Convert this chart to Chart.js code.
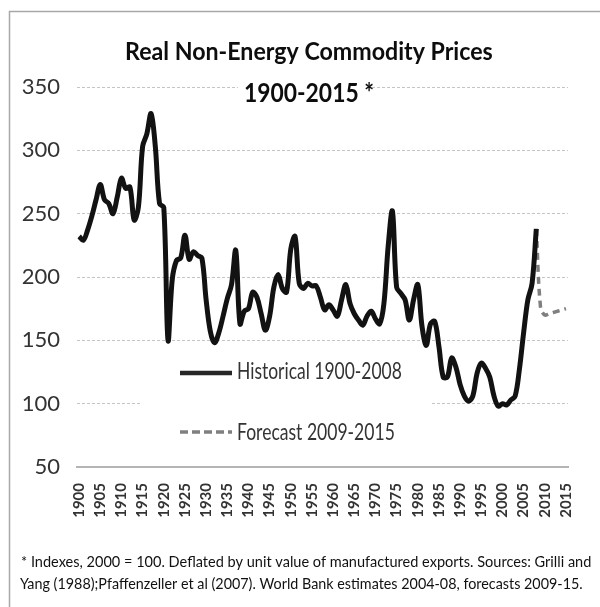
<!DOCTYPE html>
<html>
<head>
<meta charset="utf-8">
<script src="https://cdn.jsdelivr.net/npm/chart.js@4"></script>
<style>
  html, body { margin: 0; padding: 0; background: #fff; overflow: hidden; }
</style>
</head>
<body>
<canvas id="chart" width="600" height="607"></canvas>
<script>
// categories: one per year
const years = [
  1900, 1901, 1902, 1903, 1904, 1905, 1906, 1907, 1908, 1909,
  1910, 1911, 1912, 1913, 1914, 1915, 1916, 1917, 1918, 1919,
  1920, 1921, 1922, 1923, 1924, 1925, 1926, 1927, 1928, 1929,
  1930, 1931, 1932, 1933, 1934, 1935, 1936, 1937, 1938, 1939,
  1940, 1941, 1942, 1943, 1944, 1945, 1946, 1947, 1948, 1949,
  1950, 1951, 1952, 1953, 1954, 1955, 1956, 1957, 1958, 1959,
  1960, 1961, 1962, 1963, 1964, 1965, 1966, 1967, 1968, 1969,
  1970, 1971, 1972, 1973, 1974, 1975, 1976, 1977, 1978, 1979,
  1980, 1981, 1982, 1983, 1984, 1985, 1986, 1987, 1988, 1989,
  1990, 1991, 1992, 1993, 1994, 1995, 1996, 1997, 1998, 1999,
  2000, 2001, 2002, 2003, 2004, 2005, 2006, 2007, 2008, 2009,
  2010, 2011, 2012, 2013, 2014, 2015
];

// historical index 1900-2008
const historical = [
  232, 229, 237, 248, 261, 273, 261, 258, 250, 263,
  278, 270, 271, 245, 255, 303, 313, 329, 303, 258,
  255, 150, 198, 213, 215, 233, 214, 220, 217, 215,
  182, 157, 148, 156, 169, 183, 194, 221, 163, 173,
  175, 188, 184, 171, 158, 169, 192, 202, 191, 188,
  222, 232, 195, 191, 195, 193, 193, 184, 174, 178,
  174, 169, 182, 194, 179, 171, 166, 162, 169, 173,
  167, 163, 179, 224, 252, 192, 187, 182, 166, 182,
  194, 161, 146, 163, 165, 145, 121, 121, 136, 129,
  115, 106, 102, 106, 124, 132, 128, 121, 106, 98,
  100, 99, 103, 106, 127, 156, 182, 195, 238
];

// forecast 2008 (joins the historical line) to 2015
const forecastYears = [2008, 2009, 2010, 2011, 2012, 2013, 2014, 2015];
const forecast = [238, 176, 170, 171, 172, 173, 174, 175];

const yTicks = [50, 100, 150, 200, 250, 300, 350];

const titleLines = ['Real Non-Energy Commodity Prices', '1900-2015 *'];
const legendLabels = ['Historical 1900-2008', 'Forecast 2009-2015'];
const footnote = [
  '* Indexes, 2000 = 100. Deflated by unit value of manufactured exports. Sources: Grilli and',
  'Yang (1988);Pfaffenzeller et al (2007). World Bank estimates 2004-08, forecasts 2009-15.'
];

const FONT = "Lato, 'Open Sans', sans-serif";

// draws text scaled to a given width and cap height (the source text is tall and narrow)
function fitText(ctx, text, x, baseline, width, cap, weight, color, align) {
  ctx.save();
  ctx.font = weight + ' 100px ' + FONT;
  const size = 100 * width / ctx.measureText(text).width;
  ctx.font = weight + ' ' + size + 'px ' + FONT;
  const capH = ctx.measureText('H').actualBoundingBoxAscent || size * 0.72;
  ctx.translate(x, baseline);
  ctx.scale(1, cap / capH);
  ctx.fillStyle = color;
  ctx.textAlign = align || 'left';
  ctx.textBaseline = 'alphabetic';
  ctx.fillText(text, 0, 0);
  ctx.restore();
}

const decorations = {
  id: 'decorations',
  beforeDraw(chart) {
    const ctx = chart.ctx;
    ctx.save();
    ctx.strokeStyle = '#a8a8a8';
    ctx.lineWidth = 1.5;
    ctx.beginPath();
    ctx.moveTo(9.5, 607);
    ctx.lineTo(9.5, 11.5);
    ctx.lineTo(600, 11.5);
    ctx.stroke();
    ctx.restore();
  },
  beforeDatasetsDraw(chart) {
    const ctx = chart.ctx;
    ctx.save();
    ctx.fillStyle = '#fff';
    ctx.fillRect(238, 70, 134, 40);   // behind title line 2
    ctx.fillRect(140, 350, 290, 102); // legend box
    ctx.restore();
  },
  afterDatasetsDraw(chart) {
    const ctx = chart.ctx;
    // title
    fitText(ctx, titleLines[0], 125, 60, 368, 17.5, 'bold', '#0d0d0d', 'left');
    fitText(ctx, titleLines[1], 244, 102, 130, 19.5, 'bold', '#0d0d0d', 'left');
    // legend
    ctx.save();
    ctx.lineCap = 'butt';
    ctx.strokeStyle = '#262626';
    ctx.lineWidth = 4.5;
    ctx.beginPath();
    ctx.moveTo(180, 373);
    ctx.lineTo(232, 373);
    ctx.stroke();
    ctx.strokeStyle = '#808080';
    ctx.lineWidth = 3.5;
    ctx.setLineDash([8, 4]);
    ctx.beginPath();
    ctx.moveTo(180, 432);
    ctx.lineTo(232, 432);
    ctx.stroke();
    ctx.restore();
    fitText(ctx, legendLabels[0], 237, 379, 165, 16.5, 'normal', '#333', 'left');
    fitText(ctx, legendLabels[1], 237, 440, 158, 16.5, 'normal', '#333', 'left');
    // footnote
    fitText(ctx, footnote[0], 21, 567, 571, 11.5, 'normal', '#111', 'left');
    fitText(ctx, footnote[1], 20, 589, 563, 11.5, 'normal', '#111', 'left');
  }
};

new Chart(document.getElementById('chart'), {
  type: 'line',
  data: {
    labels: years,
    datasets: [{
      label: legendLabels[0],
      data: historical.map((v, i) => ({ x: years[i], y: v })),
      borderColor: '#121212',
      borderWidth: 5,
      tension: 0.35,
      pointRadius: 0,
      fill: false
    }, {
      label: legendLabels[1],
      data: forecastYears.map((yr, i) => ({ x: yr, y: forecast[i] })),
      borderColor: '#7f7f7f',
      borderWidth: 3.5,
      borderDash: [7, 5],
      tension: 0.35,
      pointRadius: 0,
      fill: false
    }]
  },
  options: {
    responsive: false,
    animation: false,
    layout: { padding: { top: 87, right: 12, left: 0, bottom: 0 } },
    scales: {
      x: {
        type: 'category',
        offset: true,
        grid: { display: false, drawTicks: false },
        border: { display: true, color: '#b4b4b4', width: 2 },
        ticks: {
          autoSkip: false,
          maxRotation: 90,
          minRotation: 90,
          padding: 16,
          color: '#333',
          font: { family: FONT, size: 15, weight: 'bold' },
          callback: function (value) {
            const yr = this.getLabelForValue(value);
            return yr % 5 === 0 ? String(yr) : '';
          }
        },
        afterFit(scale) { scale.height = 140; }
      },
      y: {
        min: 50,
        max: 350,
        afterBuildTicks(scale) { scale.ticks = yTicks.map(v => ({ value: v })); },
        grid: { color: '#c4c4c4', lineWidth: 1, drawTicks: false },
        border: { display: false, dash: [3, 2] },
        ticks: {
          padding: 17,
          color: '#333',
          font: { family: FONT, size: 22 }
        },
        afterFit(scale) { scale.width = 77; }
      }
    },
    plugins: {
      legend: { display: false },
      title: { display: false },
      tooltip: { enabled: false }
    }
  },
  plugins: [decorations]
});
</script>
</body>
</html>
